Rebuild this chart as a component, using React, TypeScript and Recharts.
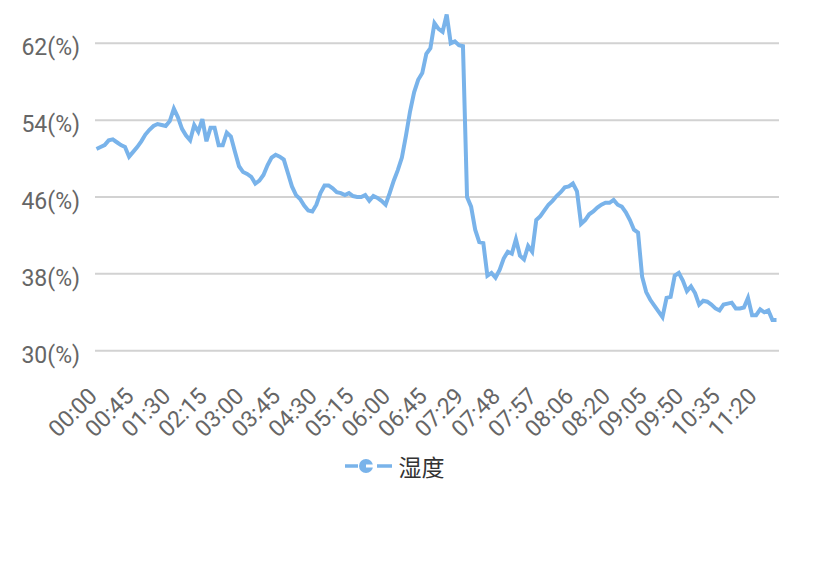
import React from "react";
import { LineChart, Line, XAxis, YAxis, CartesianGrid, Legend } from "recharts";

// humidity readings, one every tick step
const humidity = [
  51.0, 51.2, 51.4, 51.9, 52.0, 51.7, 51.4, 51.2, 50.2, 50.7,
  51.2, 51.8, 52.5, 53.0, 53.4, 53.6, 53.5, 53.4, 53.9, 55.2,
  54.3, 53.1, 52.4, 51.9, 53.5, 52.8, 54.1, 51.8, 53.2, 53.2,
  51.4, 51.4, 52.7, 52.3, 50.7, 49.2, 48.6, 48.4, 48.1, 47.4,
  47.7, 48.3, 49.3, 50.1, 50.4, 50.2, 49.9, 48.5, 47.1, 46.2,
  45.8, 45.1, 44.6, 44.5, 45.2, 46.4, 47.2, 47.2, 46.9, 46.5,
  46.4, 46.2, 46.4, 46.1, 46.0, 46.0, 46.2, 45.6, 46.1, 45.9,
  45.6, 45.2, 46.4, 47.7, 48.8, 50.1, 52.4, 54.9, 56.9, 58.2,
  58.9, 60.9, 61.5, 64.1, 63.5, 63.2, 65.0, 62.0, 62.2, 61.8,
  61.7, 46.0, 45.0, 42.6, 41.3, 41.2, 37.8, 38.1, 37.6, 38.4,
  39.6, 40.3, 40.1, 41.6, 39.9, 39.5, 40.9, 40.3, 43.6, 44.0,
  44.6, 45.2, 45.6, 46.1, 46.5, 47.0, 47.1, 47.4, 46.6, 43.2,
  43.6, 44.2, 44.5, 44.9, 45.2, 45.4, 45.4, 45.7, 45.2, 45.0,
  44.4, 43.6, 42.6, 42.3, 37.7, 36.1, 35.3, 34.7, 34.1, 33.5,
  35.5, 35.6, 37.8, 38.1, 37.3, 36.2, 36.7, 36.0, 34.8, 35.2,
  35.1, 34.8, 34.4, 34.2, 34.8, 34.9, 35.0, 34.4, 34.4, 34.5,
  35.5, 33.7, 33.7, 34.3, 34.0, 34.2, 33.2, 33.2,
];

// labels shown on the time axis, one for every 9 readings
const timeLabels = [
  "00:00", "00:45", "01:30", "02:15", "03:00", "03:45", "04:30", "05:15",
  "06:00", "06:45", "07:29", "07:48", "07:57", "08:06", "08:20", "09:05",
  "09:50", "10:35", "11:20",
];
const LABEL_STEP = 9;

const yTicks = [30, 38, 46, 54, 62];

const data = humidity.map((v, i) => ({
  time: i % LABEL_STEP === 0 ? timeLabels[i / LABEL_STEP] : "",
  humidity: v,
}));

const BLUE = "#79b3ea";

const XTick = ({ x, y, payload }: any) => (
  <g transform={`translate(${x + 2},${y + 47})`}>
    <text textAnchor="end" transform="rotate(-45)" fill="#666" fontSize={23}>
      {payload.value}
    </text>
  </g>
);

const YTick = ({ x, y, payload }: any) => (
  <text x={x} y={y + 12} textAnchor="end" fill="#666" fontSize={23}>
    {payload.value}(%)
  </text>
);

const LegendContent = () => (
  <div style={{ height: 30, display: "flex", justifyContent: "center", alignItems: "center" }}>
    <svg width={48} height={20} style={{ marginRight: 6, marginLeft: 10 }}>
      <line x1={0} y1={10} x2={13} y2={10} stroke={BLUE} strokeWidth={3.5} />
      <line x1={32} y1={10} x2={47} y2={10} stroke={BLUE} strokeWidth={3.5} />
      <circle cx={21} cy={10} r={7} fill={BLUE} />
      <line x1={21} y1={10} x2={29} y2={10} stroke="#fff" strokeWidth={3} />
    </svg>
    <span style={{ fontSize: 23, color: "#333" }}>湿度</span>
  </div>
);

export default function App() {
  return (
    <div style={{ position: "absolute", left: 0, top: 0, fontFamily: "Roboto, 'Noto Sans CJK SC', sans-serif" }}>
      <LineChart
        width={838}
        height={567}
        data={data}
        margin={{ top: 14.5, right: 59, left: 0, bottom: 86 }}
      >
        <CartesianGrid vertical={false} horizontalValues={yTicks} stroke="#d2d2d2" strokeWidth={2} />
        <XAxis
          dataKey="time"
          interval={LABEL_STEP - 1}
          axisLine={false}
          tickLine={false}
          tickSize={0}
          tickMargin={0}
          height={100.3}
          padding={{ left: 1.5, right: 2.5 }}
          tick={<XTick />}
        />
        <YAxis
          domain={[30, 65]}
          ticks={yTicks}
          width={95}
          axisLine={false}
          tickLine={false}
          tickSize={0}
          tickMargin={15}
          tick={<YTick />}
        />
        <Legend verticalAlign="bottom" content={<LegendContent />} />
        <Line
          type="linear"
          dataKey="humidity"
          name="湿度"
          stroke={BLUE}
          strokeWidth={4}
          dot={false}
          isAnimationActive={false}
        />
      </LineChart>
    </div>
  );
}
